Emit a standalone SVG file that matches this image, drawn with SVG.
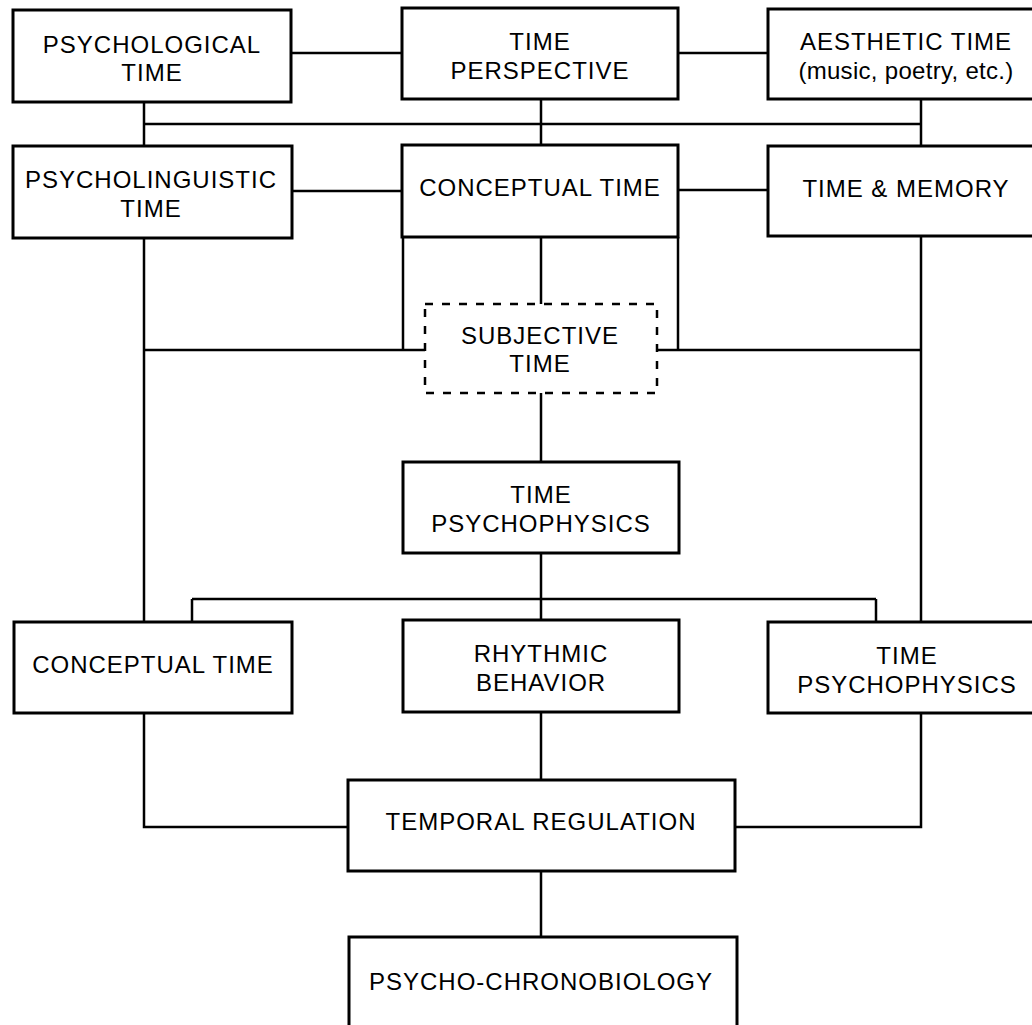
<svg xmlns="http://www.w3.org/2000/svg" width="1032" height="1025" viewBox="0 0 1032 1025">
<style>
.box{fill:#fff;stroke:#000;stroke-width:3}
.dash{fill:#fff;stroke:#000;stroke-width:2.5;stroke-dasharray:8 9}
.ln{fill:none;stroke:#000;stroke-width:2.5}
text{font-family:"Liberation Sans",Arial,sans-serif;font-size:24px;letter-spacing:1px;text-anchor:middle;fill:#000}
.lc{letter-spacing:0.3px}
</style>
<rect width="1032" height="1025" fill="#fff"/>
<g id="connectors">
<path class="ln" d="M291 53H402M678 53H768"/>
<path class="ln" d="M144 124H921M144 102V146M541 99V144M921 99V146"/>
<path class="ln" d="M292 191H402M678 190H768"/>
<path class="ln" d="M144 238V622M403 237V350M144 350H425M541 237V304M678 237V350M657 350H921M921 236V622"/>
<path class="ln" d="M541 393V462M541 553V620M192 599H876M192 599V622M876 599V622"/>
<path class="ln" d="M144 713V827H348M541 712V780M921 713V827H735M541 871V937"/>
</g>
<g id="psychological-time"><rect class="box" x="13" y="10" width="278" height="92"/><text x="152" y="53">PSYCHOLOGICAL</text><text x="152" y="81">TIME</text></g>
<g id="time-perspective"><rect class="box" x="402" y="8" width="276" height="91"/><text x="540" y="50">TIME</text><text x="540" y="79">PERSPECTIVE</text></g>
<g id="aesthetic-time"><rect class="box" x="768" y="9" width="280" height="90"/><text x="906" y="50">AESTHETIC TIME</text><text class="lc" x="906" y="79">(music, poetry, etc.)</text></g>
<g id="psycholinguistic-time"><rect class="box" x="13" y="146" width="279" height="92"/><text x="151" y="188">PSYCHOLINGUISTIC</text><text x="151" y="217">TIME</text></g>
<g id="conceptual-time-top"><rect class="box" x="402" y="145" width="276" height="92"/><text x="540" y="196">CONCEPTUAL TIME</text></g>
<g id="time-memory"><rect class="box" x="768" y="146" width="280" height="90"/><text x="906" y="197">TIME &amp; MEMORY</text></g>
<g id="subjective-time"><rect class="dash" x="425" y="304" width="232" height="89"/><text x="540" y="344">SUBJECTIVE</text><text x="540" y="372">TIME</text></g>
<g id="time-psychophysics-center"><rect class="box" x="403" y="462" width="276" height="91"/><text x="541" y="503">TIME</text><text x="541" y="532">PSYCHOPHYSICS</text></g>
<g id="conceptual-time-bottom"><rect class="box" x="14" y="622" width="278" height="91"/><text x="153" y="673">CONCEPTUAL TIME</text></g>
<g id="rhythmic-behavior"><rect class="box" x="403" y="620" width="276" height="92"/><text x="541" y="662">RHYTHMIC</text><text x="541" y="691">BEHAVIOR</text></g>
<g id="time-psychophysics-right"><rect class="box" x="768" y="622" width="280" height="91"/><text x="907" y="664">TIME</text><text x="907" y="693">PSYCHOPHYSICS</text></g>
<g id="temporal-regulation"><rect class="box" x="348" y="780" width="387" height="91"/><text x="541" y="830">TEMPORAL REGULATION</text></g>
<g id="psycho-chronobiology"><rect class="box" x="349" y="937" width="388" height="100"/><text x="541" y="990">PSYCHO-CHRONOBIOLOGY</text></g>
</svg>
